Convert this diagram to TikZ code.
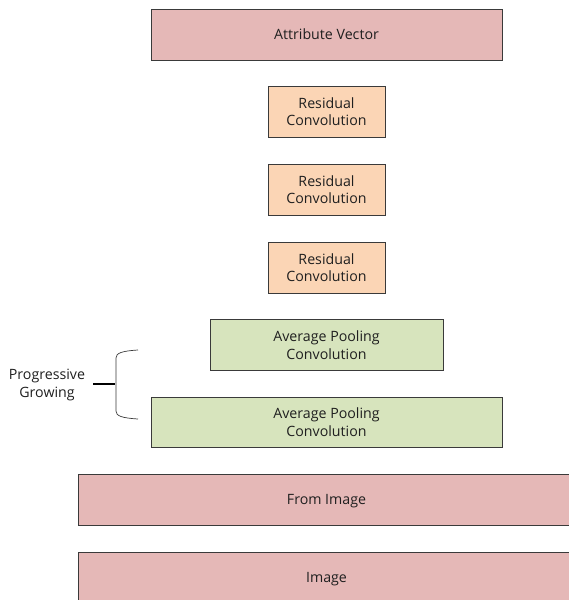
\documentclass[tikz,border=0pt]{standalone}
\usepackage{fontspec}
\setmainfont{Open Sans}
\definecolor{pinkf}{HTML}{E5B8B7}
\definecolor{orangef}{HTML}{FBD5B5}
\definecolor{greenf}{HTML}{D7E4BD}
\definecolor{edge}{HTML}{3A3A3A}
\tikzset{lbl/.style={font=\fontsize{14.2}{17.5}\selectfont,text=black!88}}
\begin{document}
\begin{tikzpicture}[x=1pt,y=-1pt,
  box/.style={draw=edge,line width=0.9pt,inner sep=0pt,align=center,lbl},
  pinkbox/.style={box,fill=pinkf},
  orangebox/.style={box,fill=orangef},
  greenbox/.style={box,fill=greenf}]
\useasboundingbox (0,0) rectangle (569,600);
\begin{scope}
\clip (0,0) rectangle (569,600);
\node[pinkbox,minimum width=351pt,minimum height=51pt] (attr) at (326.5,34.5) {Attribute Vector};
\node[orangebox,minimum width=117pt,minimum height=51pt] (res1) at (326.5,111.5) {Residual\\Convolution};
\node[orangebox,minimum width=117pt,minimum height=51pt] (res2) at (326.5,189.5) {Residual\\Convolution};
\node[orangebox,minimum width=117pt,minimum height=51pt] (res3) at (326.5,267.5) {Residual\\Convolution};
\node[greenbox,minimum width=233pt,minimum height=51pt] (avg1) at (326.5,345) {Average Pooling\\Convolution};
\node[greenbox,minimum width=351pt,minimum height=50pt] (avg2) at (326.5,422) {Average Pooling\\Convolution};
\draw[draw=edge,line width=0.9pt,fill=pinkf] (78,474) rectangle (600,525);
\node[lbl] (from) at (326.5,501.5) {From Image};
\draw[draw=edge,line width=0.9pt,fill=pinkf] (78,552) rectangle (600,640);
\node[lbl] (img) at (326.5,579.5) {Image};
\end{scope}
\node[align=center,lbl] (prog) at (47,385) {Progressive\\Growing};
\coordinate (bt) at (138,350);
\coordinate (bb) at (138,419);
\coordinate (bm) at (115,384);
\draw[edge,line width=0.7pt] (bt) .. controls (122,351) and (116,353) .. (116,358) -- (116,411) .. controls (116,416) and (122,418) .. (bb);
\draw[black,line width=1.4pt] (93,384) -- (bm);
\end{tikzpicture}
\end{document}
